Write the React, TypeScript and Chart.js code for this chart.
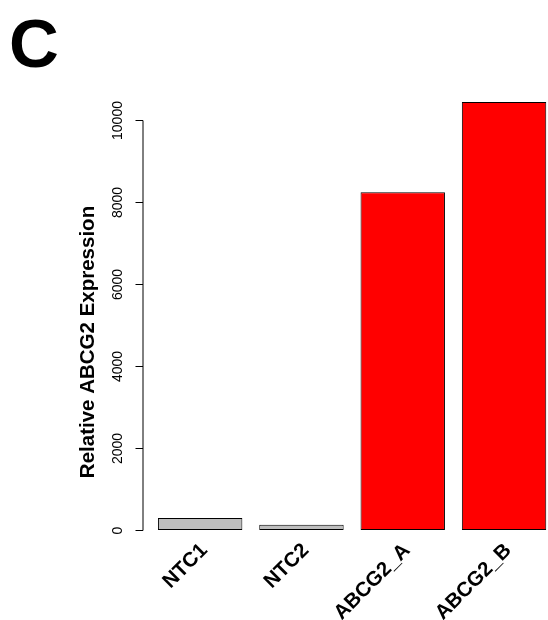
import React, { useEffect, useRef } from "react";
import { Chart, registerables } from "chart.js";

Chart.register(...registerables);

const categories = ["NTC1", "NTC2", "ABCG2_A", "ABCG2_B"];
const values = [290, 130, 8240, 10440];
const barColors = ["#BEBEBE", "#BEBEBE", "#FF0000", "#FF0000"];
const yTicks = [0, 2000, 4000, 6000, 8000, 10000];
const yTitle = "Relative ABCG2 Expression";
const panelLetter = "C";

const FONT = "'Liberation Sans', Arial, Helvetica, sans-serif";

const axisPlugin = {
  id: "rStyleAxes",
  afterDraw(chart: any) {
    const ctx = chart.ctx as CanvasRenderingContext2D;
    const area = chart.chartArea;
    const y = chart.scales.y;
    const x = chart.scales.x;
    ctx.save();
    // y axis line
    const ax = area.left - 7;
    const yTop = y.getPixelForValue(yTicks[yTicks.length - 1]);
    const yBot = y.getPixelForValue(yTicks[0]);
    ctx.strokeStyle = "#000";
    ctx.lineWidth = 1;
    ctx.beginPath();
    ctx.moveTo(ax + 0.5, Math.round(yTop) + 0.5);
    ctx.lineTo(ax + 0.5, Math.round(yBot) + 0.5);
    ctx.stroke();
    ctx.fillStyle = "#000";
    ctx.font = `14px ${FONT}`;
    ctx.textAlign = "center";
    ctx.textBaseline = "middle";
    yTicks.forEach((t) => {
      const py = Math.round(y.getPixelForValue(t)) + 0.5;
      ctx.beginPath();
      ctx.moveTo(ax - 7, py);
      ctx.lineTo(ax + 0.5, py);
      ctx.stroke();
      ctx.save();
      ctx.translate(ax - 24, py);
      ctx.rotate(-Math.PI / 2);
      ctx.fillText(String(t), 0, 0);
      ctx.restore();
    });
    // y title
    ctx.save();
    ctx.font = `bold 20.5px ${FONT}`;
    ctx.translate(area.left - 61, (yTop + yBot) / 2 + 17);
    ctx.rotate(-Math.PI / 2);
    ctx.textAlign = "center";
    ctx.textBaseline = "middle";
    ctx.fillText(yTitle, 0, 0);
    ctx.restore();
    // x labels rotated 45
    ctx.font = `bold 20.5px ${FONT}`;
    categories.forEach((c, i) => {
      const px = x.getPixelForValue(i);
      ctx.save();
      ctx.translate(px - 3, yBot + 10);
      ctx.rotate(-Math.PI / 4);
      ctx.textAlign = "right";
      ctx.textBaseline = "top";
      ctx.fillText(c, 0, 0);
      ctx.restore();
    });
    // panel letter
    ctx.font = `bold 69px ${FONT}`;
    ctx.textAlign = "left";
    ctx.textBaseline = "alphabetic";
    ctx.fillText(panelLetter, 9, 67);
    ctx.restore();
  },
};

export default function App() {
  const ref = useRef<HTMLCanvasElement>(null);
  useEffect(() => {
    document.body.style.overflow = "hidden";
    const chart = new Chart(ref.current!, {
      type: "bar",
      data: {
        labels: categories,
        datasets: [
          {
            data: values,
            backgroundColor: barColors,
            borderColor: "#000",
            borderWidth: 1,
            borderSkipped: false,
            categoryPercentage: 1,
            barPercentage: 1 / 1.2,
          },
        ],
      },
      options: {
        responsive: false,
        animation: false,
        layout: { padding: { left: 149.5, right: 5.3, top: 79, bottom: 90 } },
        plugins: { legend: { display: false }, tooltip: { enabled: false }, title: { display: false } },
        scales: {
          x: { display: false },
          y: { display: false, min: 0, max: 11000 },
        },
      },
      plugins: [axisPlugin],
    });
    return () => chart.destroy();
  }, []);
  return (
    <div style={{ position: "fixed", left: 0, top: 0, width: 548, height: 620, overflow: "hidden", background: "#fff" }}>
      <canvas ref={ref} width={560} height={620} style={{ display: "block" }} />
    </div>
  );
}
